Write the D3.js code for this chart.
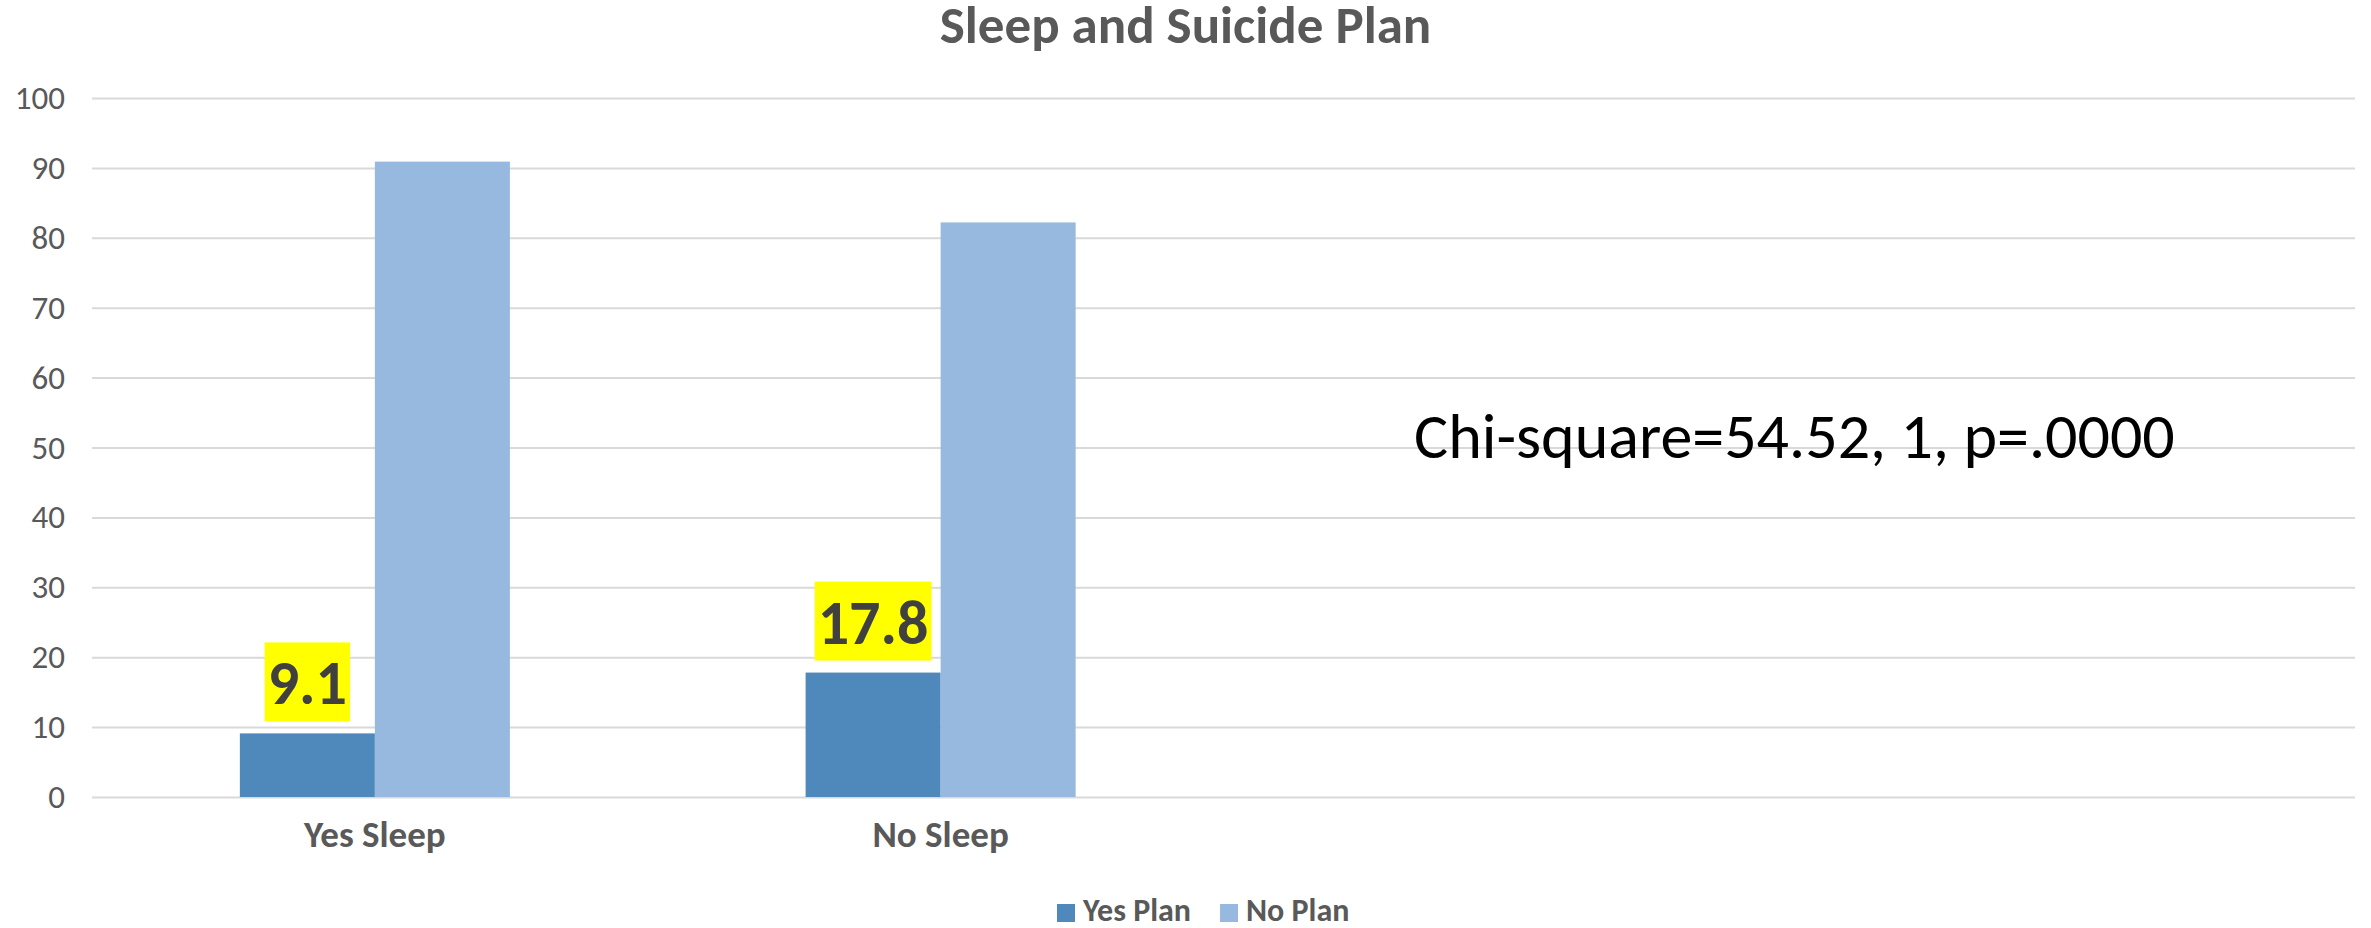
<!DOCTYPE html>
<html>
<head>
<meta charset="utf-8">
<script src="https://cdn.jsdelivr.net/npm/d3@7/dist/d3.min.js"></script>
<style>
  html, body { margin: 0; padding: 0; background: #fff; }
  svg { display: block; font-family: Carlito, Calibri, Lato, "Open Sans", sans-serif; }
</style>
</head>
<body>
<svg id="chart" width="2371" height="928"></svg>
<script>
// Category slots along the x axis (the last two are unused slots)
const categories = ["Yes Sleep", "No Sleep", "", ""];
// Series and their values per category (percent)
const seriesNames = ["Yes Plan", "No Plan"];
const yesPlan = [9.1, 17.8];
const noPlan = [90.9, 82.2];
const seriesColors = ["#4f88bb", "#98b9df"];
// Value axis ticks
const yTicks = [0, 10, 20, 30, 40, 50, 60, 70, 80, 90, 100];
const titleText = "Sleep and Suicide Plan";
const statText = "Chi-square=54.52, 1, p=.0000";

const W = 2371, H = 928;
const plot = { left: 92, right: 2355, top: 98, bottom: 797 };
const svg = d3.select("#chart");

const x0 = d3.scaleBand()
  .domain(d3.range(categories.length))
  .range([plot.left, plot.right])
  .padding(0);

const gapWidth = 2.19;
const barW = x0.bandwidth() / (seriesNames.length + gapWidth);
const x1 = d3.scaleBand()
  .domain(seriesNames)
  .range([barW * gapWidth / 2, x0.bandwidth() - barW * gapWidth / 2])
  .padding(0);

const y = d3.scaleLinear().domain([0, 100]).range([plot.bottom, plot.top]);

// Title
svg.append("text")
  .attr("x", W / 2).attr("y", 43)
  .attr("text-anchor", "middle")
  .attr("font-size", 53).attr("font-weight", "bold")
  .attr("fill", "#595959")
  .text(titleText);

// Gridlines + value axis labels
const yAxis = d3.axisLeft(y)
  .tickValues(yTicks)
  .tickSize(-(plot.right - plot.left))
  .tickPadding(27)
  .tickFormat(d3.format("d"));
const gy = svg.append("g")
  .attr("transform", `translate(${plot.left},0)`)
  .call(yAxis);
gy.select(".domain").remove();
gy.selectAll(".tick line").attr("stroke", "#d9d9d9").attr("stroke-width", 2);
gy.selectAll(".tick text")
  .attr("fill", "#595959")
  .attr("font-size", 33)
  .attr("font-family", "Carlito, Calibri, Lato, sans-serif");

// Bars
const rows = categories.slice(0, yesPlan.length).map((c, i) => ({
  idx: i, name: c,
  values: [{ s: seriesNames[0], v: yesPlan[i] }, { s: seriesNames[1], v: noPlan[i] }]
}));

const groups = svg.append("g").selectAll("g")
  .data(rows).join("g")
  .attr("transform", d => `translate(${x0(d.idx)},0)`);

groups.selectAll("rect")
  .data(d => d.values).join("rect")
  .attr("x", d => x1(d.s))
  .attr("width", x1.bandwidth())
  .attr("y", d => y(d.v))
  .attr("height", d => y(0) - y(d.v))
  .attr("fill", (d, i) => seriesColors[i]);

// Highlighted value labels on the "Yes Plan" bars
groups.each(function (d) {
  const g = d3.select(this);
  const v = d.values[0].v;
  const cx = x1(seriesNames[0]) + x1.bandwidth() / 2;
  const boxBottom = y(v) - 12;
  const boxH = 79;
  const bg = g.append("rect").attr("fill", "#ffff00");
  const t = g.append("text")
    .attr("x", cx).attr("y", boxBottom - 17)
    .attr("text-anchor", "middle")
    .attr("font-size", 62).attr("font-weight", "bold")
    .attr("fill", "#404040")
    .text(d3.format(".1f")(v));
  const tw = t.node().getComputedTextLength();
  bg.attr("x", cx - tw / 2 - 3).attr("width", tw + 6)
    .attr("y", boxBottom - boxH).attr("height", boxH);
});

// Category labels
svg.append("g").selectAll("text")
  .data(categories.map((c, i) => ({ c, i })).filter(d => d.c))
  .join("text")
  .attr("x", d => x0(d.i) + x0.bandwidth() / 2)
  .attr("y", 847)
  .attr("text-anchor", "middle")
  .attr("font-size", 37).attr("font-weight", "bold")
  .attr("fill", "#595959")
  .text(d => d.c);

// Statistic annotation
svg.append("text")
  .attr("x", 1414).attr("y", 458)
  .attr("font-size", 64)
  .attr("fill", "#000")
  .text(statText);

// Legend
const legend = svg.append("g");
let lx = 1057;
seriesNames.forEach((s, i) => {
  legend.append("rect")
    .attr("x", lx).attr("y", 904).attr("width", 18).attr("height", 18)
    .attr("fill", seriesColors[i]);
  const t = legend.append("text")
    .attr("x", lx + 26).attr("y", 921)
    .attr("font-size", 32).attr("font-weight", "bold")
    .attr("fill", "#595959")
    .text(s);
  lx += 26 + t.node().getComputedTextLength() + 29;
});
</script>
</body>
</html>
